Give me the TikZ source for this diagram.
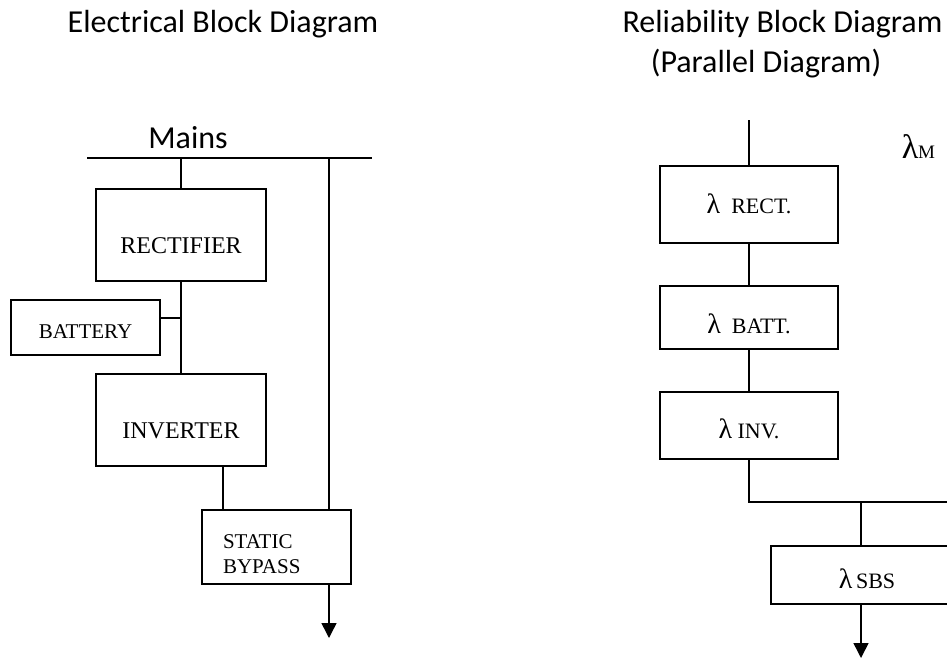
\documentclass[tikz,border=0pt]{standalone}
\usepackage{fontspec}
\setmainfont{Liberation Serif}
\newfontfamily\headfont{Carlito}
\usetikzlibrary{arrows.meta}

\newcommand\biglam{{\fontsize{28}{30}\selectfont λ}}

\begin{document}
\begin{tikzpicture}[
    x=1pt, y=-1pt,
    line width=1.5pt,
    heading/.style={font=\headfont\fontsize{32}{39}\selectfont, anchor=base, inner sep=0pt},
    block/.style={draw=black, line width=1.5pt, inner sep=0pt, font=\fontsize{24}{28}\selectfont, text depth=0pt},
    small block/.style={block, font=\fontsize{21}{25}\selectfont},
    rel block/.style={block, font=\fontsize{22}{26}\selectfont, minimum width=178pt},
    >={Triangle[length=15pt, width=15pt]}
]
\useasboundingbox (0,0) rectangle (947,659);
\clip (0,0) rectangle (947,659);

% Headings
\node[heading] (T-E) at (223,32) {Electrical Block Diagram};
\node[heading] (T-R1) at (782.5,32) {Reliability Block Diagram};
\node[heading] (T-R2) at (766,72) {(Parallel Diagram)};
\node[heading] (mains) at (188,148) {Mains};

% Mains bus
\coordinate (bus-L) at (87,158);
\coordinate (bus-R) at (372,158);
\coordinate (byp) at (329,158);
\draw (bus-L) -- (bus-R);

% Electrical blocks
\node[block, minimum width=170pt, minimum height=92pt, text height=36pt] (E-rect) at (181,235) {RECTIFIER};
\node[block, minimum width=170pt, minimum height=92pt, text height=36pt] (E-inv) at (181,420) {INVERTER};
\node[small block, minimum width=149pt, minimum height=55pt, text height=21pt] (E-batt) at (85.5,327.5) {BATTERY};
\node[small block, minimum width=149pt, minimum height=74pt, text width=107pt, align=left, inner xsep=21pt, text height=27pt, text depth=25pt] (E-sbp) at (276.5,547) {STATIC\\BYPASS};

% Electrical connections
\draw (E-rect.north) -- (E-rect.north |- bus-L);
\draw (E-rect.south) -- (E-inv.north);
\draw ([yshift=9.5pt]E-batt.east) -- ([yshift=9.5pt]E-batt.east -| E-rect.south);
\draw ([xshift=42pt]E-inv.south) -- ([xshift=42pt]E-inv.south |- E-sbp.north);
\draw (byp) -- (byp |- E-sbp.north);
\coordinate (E-out) at (329,638);
\draw[->] (E-sbp.south -| byp) -- (E-out);

% Reliability blocks
\node[rel block, minimum height=77pt, text height=17pt] (R-rect) at (749,204.5) {\biglam\ \ RECT.};
\node[rel block, minimum height=63pt, text height=31pt] (R-batt) at (749,317.5) {\biglam\ \ BATT.};
\node[rel block, minimum height=67pt, text height=26pt] (R-inv) at (749,425.5) {\biglam\ INV.};
\node[rel block, minimum width=180pt, minimum height=58pt, text height=26pt] (R-sbs) at (861,575) {\hspace*{12pt}\biglam\,SBS};
\node[anchor=base west, inner sep=0pt] (R-lm) at (901,158) {\fontsize{34}{36}\selectfont λ\fontsize{19}{20}\selectfont M};

% Reliability connections
\coordinate (R-in) at (749,120);
\coordinate (R-join) at (861,502);
\coordinate (R-end) at (960,502);
\coordinate (R-out) at (861,658);
\draw (R-in) -- (R-rect.north);
\foreach \a/\b in {R-rect/R-batt, R-batt/R-inv} {
    \draw (\a.south) -- (\b.north);
}
\draw (R-inv.south) |- (R-end);
\draw (R-join) -- (R-sbs.north);
\draw[->] (R-sbs.south) -- (R-out);

\end{tikzpicture}
\end{document}
